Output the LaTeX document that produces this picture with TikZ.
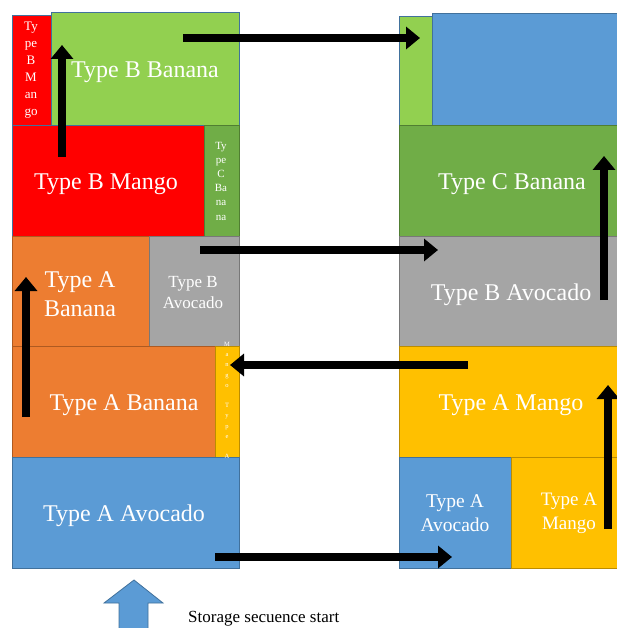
\documentclass[tikz,border=0pt]{standalone}
\usepackage{fontspec}
\setmainfont{Liberation Serif}
\usetikzlibrary{arrows.meta}

% Office-like palette
\definecolor{cblue}{HTML}{5B9BD5}
\definecolor{corange}{HTML}{ED7D31}
\definecolor{cgrey}{HTML}{A5A5A5}
\definecolor{cyellow}{HTML}{FFC000}
\definecolor{cgreen}{HTML}{70AD47}
\definecolor{clime}{HTML}{92D050}
\definecolor{cred}{HTML}{FF0000}
\definecolor{eblue}{HTML}{41719C}
\definecolor{eorange}{HTML}{AE5A21}
\definecolor{egrey}{HTML}{787878}
\definecolor{eyellow}{HTML}{BC8C00}
\definecolor{egreen}{HTML}{507E32}

\tikzset{
  blk/.style n args={2}{fill=#1, draw=#2, line width=0.8pt, inner sep=0pt,
    outer sep=0pt, anchor=north west},
  lbl/.style={text=white, inner sep=0pt, align=center},
  big/.style={lbl, font=\fontsize{24}{29}\selectfont},
  fatarrow/.style={draw=black, line width=8pt,
    -{Triangle[width=22pt,length=14pt]}},
}

\begin{document}
\begin{tikzpicture}[x=1pt,y=-1pt]
\useasboundingbox (0,0) rectangle (617,628);
\clip (0,0) rectangle (617,628);

% ---- left stack ----
\node[blk={cred}{eblue},    minimum width=39pt,  minimum height=110pt] (L5a) at (12,15) {};
\node[blk={clime}{eblue},   minimum width=188pt, minimum height=113pt] (L5b) at (51,12) {};
\node[blk={cred}{eblue},    minimum width=192pt, minimum height=111pt] (L4a) at (12,125) {};
\node[blk={cgreen}{egreen}, minimum width=35pt,  minimum height=111pt] (L4b) at (204,125) {};
\node[blk={corange}{eorange}, minimum width=137pt, minimum height=110pt] (L3a) at (12,236) {};
\node[blk={cgrey}{egrey},   minimum width=90pt,  minimum height=110pt] (L3b) at (149,236) {};
\node[blk={corange}{eorange}, minimum width=203pt, minimum height=111pt] (L2a) at (12,346) {};
\node[blk={cyellow}{eyellow}, minimum width=24pt, minimum height=111pt] (L2b) at (215,346) {};
\node[blk={cblue}{eblue},   minimum width=227pt, minimum height=111pt] (L1) at (12,457) {};

% ---- right stack ----
\node[blk={clime}{eblue},   minimum width=33pt,  minimum height=109pt] (R5a) at (399,16) {};
\node[blk={cblue}{eblue},   minimum width=190pt, minimum height=112pt] (R5b) at (432,13) {};
\node[blk={cgreen}{egreen}, minimum width=222pt, minimum height=111pt] (R4) at (399,125) {};
\node[blk={cgrey}{egrey},   minimum width=222pt, minimum height=110pt] (R3) at (399,236) {};
\node[blk={cyellow}{eyellow}, minimum width=222pt, minimum height=111pt] (R2) at (399,346) {};
\node[blk={cblue}{eblue},   minimum width=112pt, minimum height=111pt] (R1a) at (399,457) {};
\node[blk={cyellow}{eyellow}, minimum width=110pt, minimum height=111pt] (R1b) at (511,457) {};

% ---- labels, left ----
\node[big] (tL5b) at (145,72) {Type B Banana};
\node[lbl, font=\fontsize{13}{17}\selectfont] (tL5a) at (31,70) {Ty\\pe\\B\\M\\an\\go};
\node[big] (tL4a) at (106,184) {Type B Mango};
\node[lbl, font=\fontsize{11}{14.2}\selectfont] (tL4b) at (221,181) {Ty\\pe\\C\\Ba\\na\\na};
\node[big] (tL3a) at (80,294) {Type A\\Banana};
\node[lbl, font=\fontsize{17}{21}\selectfont] (tL3b) at (193,293) {Type B\\Avocado};
\node[big] (tL2a) at (124,405) {Type A Banana};
\node[lbl, font=\fontsize{6.5}{10.2}\selectfont, anchor=north] (tL2b) at (227,342)
  {M\\a\\n\\g\\o\\\mbox{}\\T\\y\\p\\e\\\mbox{}\\A};
\node[big] (tL1) at (124,516) {Type A Avocado};

% ---- labels, right ----
\node[big] (tR4) at (512,184) {Type C Banana};
\node[big] (tR3) at (511,295) {Type B Avocado};
\node[big] (tR2) at (511,405) {Type A Mango};
\node[lbl, font=\fontsize{19.5}{24}\selectfont] (tR1a) at (455,513) {Type A\\Avocado};
\node[lbl, font=\fontsize{19}{24}\selectfont] (tR1b) at (569,513) {Type A\\Mango};

% ---- movement arrows ----
\coordinate (a1s) at (183,38);  \coordinate (a1e) at (420,38);
\coordinate (a2s) at (200,250); \coordinate (a2e) at (438,250);
\coordinate (a3s) at (468,365); \coordinate (a3e) at (230,365);
\coordinate (a4s) at (215,557); \coordinate (a4e) at (452,557);
\coordinate (a5s) at (62,157);  \coordinate (a5e) at (62,45);
\coordinate (a6s) at (26,417);  \coordinate (a6e) at (26,277);
\coordinate (a7s) at (604,300); \coordinate (a7e) at (604,156);
\coordinate (a8s) at (608,529); \coordinate (a8e) at (608,385);
\foreach \k in {1,...,8} \draw[fatarrow] (a\k s) -- (a\k e);

% ---- start marker ----
\path[fill=cblue, draw=eblue, line width=0.8pt]
  (134,580) -- (163,603) -- (148,603) -- (148,640) -- (119,640)
  -- (119,603) -- (104,603) -- cycle;
\node[anchor=base west, inner sep=0pt, font=\fontsize{17}{20}\selectfont]
  (start) at (188,622) {Storage secuence start};
\end{tikzpicture}
\end{document}
